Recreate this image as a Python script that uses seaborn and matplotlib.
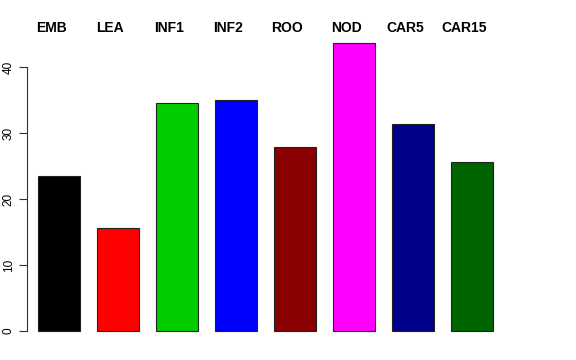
import matplotlib
matplotlib.use("Agg")
import matplotlib.pyplot as plt
import matplotlib.transforms as mtransforms
import pandas as pd
import seaborn as sns

# tissue names and values
tissues = ["EMB", "LEA", "INF1", "INF2", "ROO", "NOD", "CAR5", "CAR15"]
values = [23.5, 15.6, 34.5, 35.0, 27.9, 43.6, 31.4, 25.6]
bar_colors = ["#000000", "#FF0000", "#00CD00", "#0000FF",
              "#8B0000", "#FF00FF", "#00008B", "#006400"]
y_ticks = [0, 10, 20, 30, 40]

df = pd.DataFrame({"tissue": tissues, "value": values})

sns.set_style("white")
plt.rcParams["font.family"] = ["Liberation Sans", "DejaVu Sans"]

fig = plt.figure(figsize=(5.76, 3.6), dpi=100)
# axes placed in pixels to mimic the R plot region
left, right = 27 / 576, 519 / 576
bottom = 1 - 342.5 / 360
top = 1 - 31.8 / 360
ax = fig.add_axes([left, bottom, right - left, top - bottom])

sns.barplot(data=df, x="tissue", y="value", hue="tissue",
            palette=bar_colors, width=0.71, legend=False,
            edgecolor="#222222", linewidth=0.8, saturation=1, ax=ax)

ax.set_xlim(-0.542, 7.8)
ax.set_ylim(-1.74, 45.34)

for s in ["top", "right", "bottom"]:
    ax.spines[s].set_visible(False)
ax.spines["left"].set_bounds(0, 40)
ax.spines["left"].set_color("#333333")
ax.spines["left"].set_linewidth(0.8)

ax.set_xticks([])
ax.set_yticks(y_ticks)
ax.set_yticklabels([str(t) for t in y_ticks], rotation=90, va="center",
                   fontsize=8.5, color="black")
ax.tick_params(axis="y", direction="out", length=5.8, width=0.8,
               color="#333333", pad=3, left=True)
ax.set_xlabel("")
ax.set_ylabel("")

# tissue names along the top
trans = mtransforms.blended_transform_factory(ax.transData, fig.transFigure)
for i, name in enumerate(tissues):
    ax.text(i - 0.13, 1 - 28 / 360, name, transform=trans, ha="center",
            va="center", fontsize=10, fontweight="bold", color="black")

fig.savefig("out.png", dpi=100)
